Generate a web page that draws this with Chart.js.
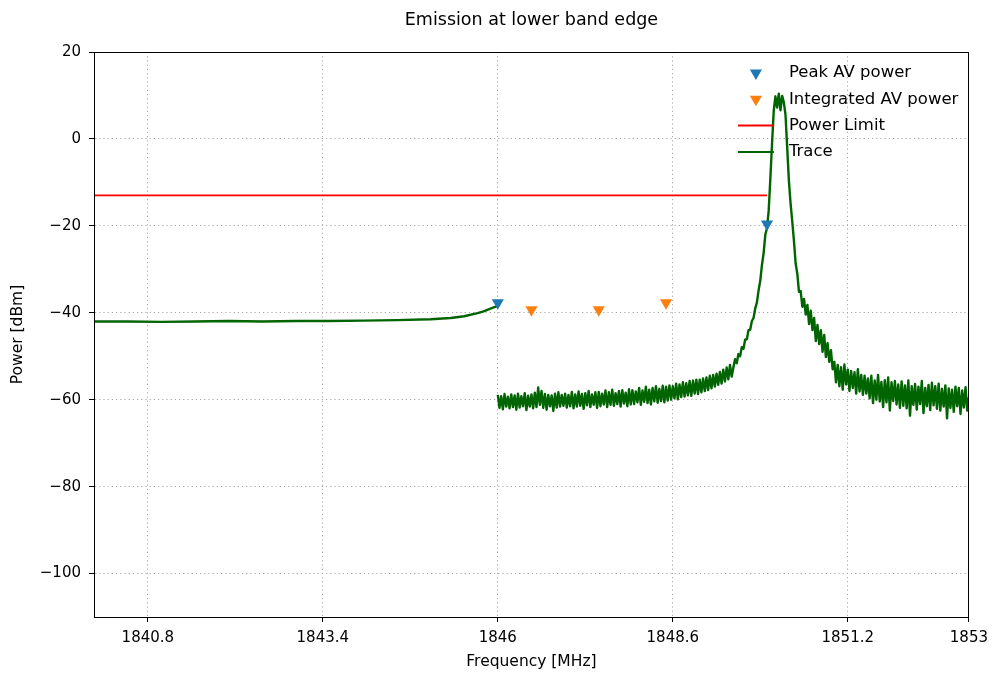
<!DOCTYPE html>
<html>
<head>
<meta charset="utf-8">
<title>Emission at lower band edge</title>
<script src="https://cdn.jsdelivr.net/npm/chart.js@4.4.1/dist/chart.umd.min.js"></script>
<style>
    html, body { margin: 0; padding: 0; background: #fff; }
    canvas { display: block; }
</style>
</head>
<body>
<canvas id="emissionChart" width="995" height="680"></canvas>
<script>
'use strict';

// axis ticks
const xTickValues = [1840.8, 1843.4, 1846, 1848.6, 1851.2, 1853];
const yTickValues = [-100, -80, -60, -40, -20, 0, 20];

// markers
const peakFreq = [1846.0, 1850.0];
const peakDbm = [-37.7, -19.6];
const integFreq = [1846.5, 1847.5, 1848.5];
const integDbm = [-39.3, -39.3, -37.7];

// limit line
const limitFreq = [1840.0, 1850.0];
const limitDbm = [-13, -13];

// trace, part below 1846 MHz
const traceLeftFreq = [1840.0, 1840.5, 1841.0, 1841.5, 1842.0, 1842.5, 1843.0, 1843.5, 1844.0,
    1844.5, 1845.0, 1845.3, 1845.5, 1845.7, 1845.8, 1845.9, 1846.0];
const traceLeftDbm = [-42.0, -42.0, -42.1, -42.0, -41.9, -42.0, -41.9, -41.9, -41.8,
    -41.7, -41.5, -41.2, -40.8, -40.1, -39.6, -39.0, -38.4];

// trace, part from 1846 MHz, sampled every 25 kHz
const traceRightStart = 1846.0;
const traceRightStep = 0.025;
const traceRightDbm = [
    -58.9, -61.9, -59.2, -62.2, -58.7, -61.6, -59.3, -62.0, -58.8, -61.7, -59.0, -62.3, -58.6, -61.8, -59.2, -61.5, -58.5, -62.4, -59.1, -61.6,
    -58.8, -62.0, -58.4, -61.7, -57.2, -61.2, -58.0, -61.9, -58.7, -62.3, -58.9, -61.5, -59.0, -62.6, -58.6, -61.8, -58.3, -61.6, -58.9, -61.4,
    -58.6, -61.8, -58.9, -61.5, -58.2, -62.0, -58.8, -61.6, -58.1, -61.4, -58.7, -62.1, -58.5, -61.3, -58.0, -61.7, -58.8, -61.2, -58.3, -61.9,
    -58.2, -61.5, -58.6, -61.1, -57.9, -61.7, -58.3, -61.2, -57.7, -61.4, -58.5, -61.0, -58.0, -61.6, -57.8, -60.9, -58.4, -61.5, -57.6, -61.1,
    -57.8, -61.0, -58.1, -60.6, -57.3, -61.2, -57.9, -60.5, -57.0, -60.8, -57.7, -61.1, -57.3, -60.4, -56.9, -60.7, -57.5, -60.3, -56.8, -60.6,
    -57.0, -60.2, -56.7, -60.0, -56.9, -59.7, -56.3, -59.9, -56.5, -59.4, -56.0, -59.3, -56.2, -59.0, -55.7, -59.1, -55.6, -58.6, -55.4, -58.7,
    -55.4, -58.3, -55.1, -58.0, -54.9, -57.8, -54.5, -57.4, -54.3, -57.0, -54.0, -56.6, -53.6, -56.3, -53.1, -55.8, -52.6, -55.3, -52.0, -54.7,
    -52.6, -50.7, -51.6, -49.5, -50.0, -47.9, -48.3, -46.2, -46.1, -44.0, -43.9, -41.9, -41.2, -39.0, -37.6, -34.8, -32.6, -29.0, -26.2, -22.0,
    -20.5, -16.5, -9.0, -1.0, 6.5, 9.8, 7.2, 10.4, 6.6, 9.9, 8.4, 5.5, -2.0, -9.6, -14.8, -19.0, -23.4, -28.6, -31.0, -35.2,
    -35.0, -38.6, -36.8, -40.4, -38.2, -42.6, -39.5, -44.0, -41.2, -46.5, -42.8, -47.2, -44.0, -49.0, -45.1, -50.2, -47.0, -51.3, -48.6, -53.0,
    -51.3, -56.0, -52.0, -56.9, -52.5, -57.7, -51.9, -56.5, -53.1, -58.0, -53.4, -57.3, -53.7, -58.6, -53.0, -58.1, -54.3, -58.9, -54.5, -58.6,
    -55.1, -59.7, -54.5, -60.8, -55.6, -60.0, -54.3, -60.4, -55.9, -61.7, -55.5, -60.6, -54.9, -62.5, -56.0, -60.3, -55.7, -61.1, -56.5, -61.9,
    -55.8, -61.4, -56.7, -62.0, -55.6, -63.7, -56.9, -61.2, -56.4, -62.3, -57.0, -61.0, -55.7, -63.1, -57.3, -61.5, -56.6, -62.4, -56.1, -61.3,
    -56.9, -62.1, -56.3, -62.5, -57.5, -61.6, -56.7, -64.3, -57.4, -61.9, -57.7, -62.8, -57.0, -61.5, -57.3, -63.3, -57.9, -61.8, -57.1, -62.5, -59.5
];

const FONT = 'DejaVu Sans';

function pairs(xs, ys) {
    return xs.map((x, i) => ({ x: x, y: ys[i] }));
}

function minusSign(v) {
    return v < 0 ? '\u2212' + Math.abs(v) : String(v);
}

const tracePoints = pairs(traceLeftFreq, traceLeftDbm)
    .concat([{ x: traceRightStart, y: null }])
    .concat(traceRightDbm.map((v, i) => ({
        x: +(traceRightStart + i * traceRightStep).toFixed(3),
        y: v
    })));

function downTriangle(ctx, x, y, r, color) {
    ctx.beginPath();
    ctx.moveTo(x, y + r);
    ctx.lineTo(x - r * 0.866, y - r / 2);
    ctx.lineTo(x + r * 0.866, y - r / 2);
    ctx.closePath();
    ctx.fillStyle = color;
    ctx.fill();
}

// legend sits inside the plot, top right, without a frame
const insideLegend = {
    id: 'insideLegend',
    afterDatasetsDraw(chart) {
        const ctx = chart.ctx;
        const area = chart.chartArea;
        ctx.save();
        ctx.font = '16.5px "' + FONT + '"';
        ctx.textBaseline = 'middle';
        chart.data.datasets.forEach((ds, i) => {
            const y = area.top + 21 + i * 26.3;
            if (ds.showLine === false) {
                downTriangle(ctx, area.right - 213, y, 7, ds.pointBackgroundColor);
            } else {
                ctx.strokeStyle = ds.borderColor;
                ctx.lineWidth = 2;
                ctx.beginPath();
                ctx.moveTo(area.right - 231, y);
                ctx.lineTo(area.right - 195, y);
                ctx.stroke();
            }
            ctx.fillStyle = '#000';
            ctx.fillText(ds.label, area.right - 180, y);
        });
        ctx.restore();
    }
};

const frameBox = {
    id: 'frameBox',
    afterDraw(chart) {
        const ctx = chart.ctx;
        const a = chart.chartArea;
        ctx.save();
        ctx.strokeStyle = '#000';
        ctx.lineWidth = 1;
        ctx.strokeRect(Math.round(a.left) + 0.5, Math.round(a.top) + 0.5,
            Math.round(a.right - a.left) - 1, Math.round(a.bottom - a.top));
        ctx.restore();
    }
};

const gridOpts = {
    color: '#a8a8a8',
    tickColor: '#000',
    tickLength: 5,
    tickBorderDash: [10, 0],
    tickWidth: 1
};
const borderOpts = { display: true, color: '#000', width: 1, dash: [1.2, 3] };

Chart.defaults.font.family = FONT;
Chart.defaults.color = '#000';

new Chart(document.getElementById('emissionChart'), {
    type: 'line',
    data: {
        datasets: [{
            label: 'Peak AV power',
            data: pairs(peakFreq, peakDbm),
            showLine: false,
            pointStyle: 'triangle',
            rotation: 180,
            pointRadius: 7,
            pointBorderWidth: 0,
            pointBackgroundColor: '#1f77b4',
            pointBorderColor: '#1f77b4',
            order: 0
        }, {
            label: 'Integrated AV power',
            data: pairs(integFreq, integDbm),
            showLine: false,
            pointStyle: 'triangle',
            rotation: 180,
            pointRadius: 7,
            pointBorderWidth: 0,
            pointBackgroundColor: '#ff7f0e',
            pointBorderColor: '#ff7f0e',
            order: 0
        }, {
            label: 'Power Limit',
            data: pairs(limitFreq, limitDbm),
            borderColor: '#ff0000',
            borderWidth: 1.6,
            pointRadius: 0,
            order: 1
        }, {
            label: 'Trace',
            data: tracePoints,
            borderColor: '#006400',
            borderWidth: 2.4,
            borderJoinStyle: 'round',
            pointRadius: 0,
            spanGaps: false,
            order: 2
        }]
    },
    options: {
        responsive: false,
        devicePixelRatio: 1,
        animation: false,
        layout: { padding: { left: 0, right: 22, top: 0, bottom: 0 } },
        plugins: {
            legend: { display: false },
            tooltip: { enabled: false },
            title: {
                display: true,
                fullSize: false,
                text: 'Emission at lower band edge',
                font: { size: 17.5, weight: 'normal' },
                color: '#000',
                padding: { top: 9.5, bottom: 21.5 }
            }
        },
        scales: {
            x: {
                type: 'linear',
                min: 1840,
                max: 1853,
                afterBuildTicks: function(scale) {
                    scale.ticks = xTickValues.map(v => ({ value: v }));
                },
                afterFit: function(scale) { scale.height = 63; },
                ticks: {
                    font: { size: 15 },
                    padding: 7,
                    maxRotation: 0,
                    autoSkip: false,
                    callback: function(value) { return String(value); }
                },
                grid: gridOpts,
                border: borderOpts,
                title: {
                    display: true,
                    text: 'Frequency [MHz]',
                    font: { size: 15.5 },
                    padding: { top: 0, bottom: 8.7 }
                }
            },
            y: {
                min: -110,
                max: 20,
                afterBuildTicks: function(scale) {
                    scale.ticks = yTickValues.map(v => ({ value: v }));
                },
                afterFit: function(scale) { scale.width = 94; },
                ticks: {
                    font: { size: 15 },
                    padding: 8,
                    autoSkip: false,
                    callback: function(value) { return minusSign(value); }
                },
                grid: gridOpts,
                border: borderOpts,
                title: {
                    display: true,
                    text: 'Power [dBm]',
                    font: { size: 15.5 },
                    padding: { top: 8.7, bottom: 0 }
                }
            }
        }
    },
    plugins: [insideLegend, frameBox]
});
</script>
</body>
</html>
